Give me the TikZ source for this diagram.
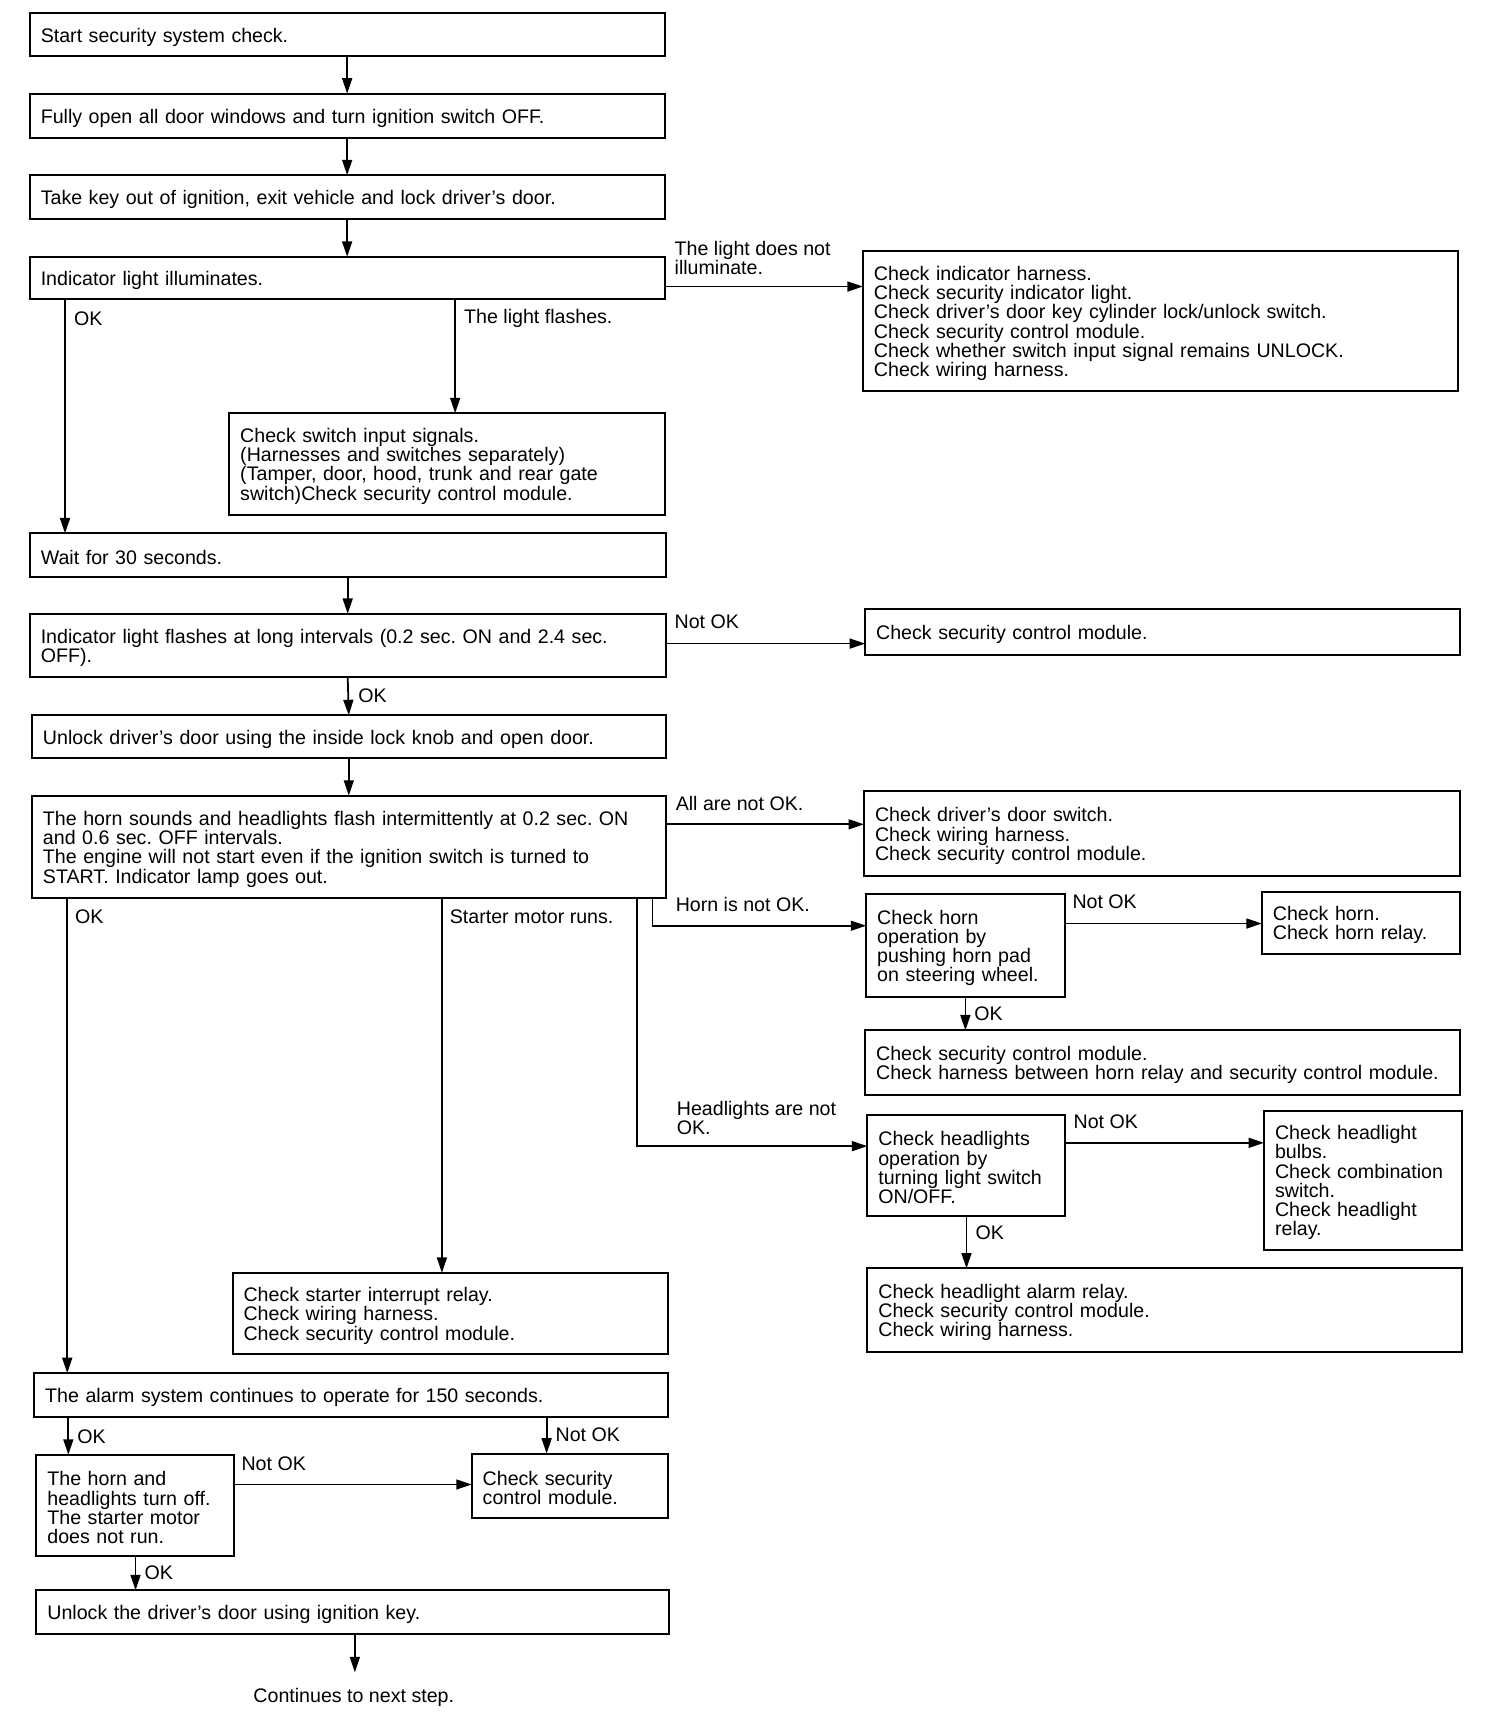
\documentclass[tikz,border=0pt]{standalone}
\usepackage{fontspec}
\setmainfont{Liberation Sans}
\usetikzlibrary{arrows.meta}
\frenchspacing
\newcommand\ff{\fontsize{17.8}{17.4}\selectfont}
\tikzset{
  box/.style={draw, line width=1.8pt, rectangle, inner xsep=10pt, inner ysep=0pt, outer sep=0pt, align=left, font=\ff},
  arr/.style={line width=1.6pt, -{Triangle[length=14pt,width=9pt]}},
  lbl/.style={inner sep=0pt, anchor=west, align=left, font=\ff}
}
\newcommand\mybox[6]{%
  \pgfmathsetmacro\mbw{#4-#2}%
  \pgfmathsetmacro\mbh{#5-#3}%
  \pgfmathsetmacro\mbt{#4-#2-20}%
  \pgfmathsetmacro\mbx{(#2+#4)/2}%
  \pgfmathsetmacro\mby{(#3+#5)/2}%
  \node[box, minimum width=\mbw pt, minimum height=\mbh pt, text width=\mbt pt] (#1) at (\mbx,\mby) {\rule{0pt}{17pt}#6};}
\begin{document}
\begin{tikzpicture}[x=1pt,y=-1pt]
\useasboundingbox (0,0) rectangle (1365,1568);
% boxes
\mybox{b1}{27}{12}{603}{51}{Start security system check.}
\mybox{b2}{27}{85}{603}{125}{Fully open all door windows and turn ignition switch OFF.}
\mybox{b3}{27}{159}{603}{199}{Take key out of ignition, exit vehicle and lock driver's door.}
\mybox{b4}{27}{233}{603}{271}{Indicator light illuminates.}
\mybox{b5}{783}{228}{1323}{355}{Check indicator harness.\\Check security indicator light.\\Check driver's door key cylinder lock/unlock switch.\\Check security control module.\\Check whether switch input signal remains UNLOCK.\\Check wiring harness.}
\mybox{b6}{208}{375}{603}{467}{Check switch input signals.\\(Harnesses and switches separately)\\(Tamper, door, hood, trunk and rear gate\\switch)Check security control module.}
\mybox{b8}{27}{484}{604}{524}{Wait for 30 seconds.}
\mybox{b9}{27}{557}{604}{614}{Indicator light flashes at long intervals (0.2 sec. ON and 2.4 sec.\\OFF).}
\mybox{b10}{785}{553}{1325}{594}{Check security control module.}
\mybox{b11}{29}{649}{604}{688}{Unlock driver's door using the inside lock knob and open door.}
\mybox{b12}{29}{722}{604}{815}{The horn sounds and headlights flash intermittently at 0.2 sec. ON\\and 0.6 sec. OFF intervals.\\The engine will not start even if the ignition switch is turned to\\START. Indicator lamp goes out.}
\mybox{b13}{784}{718}{1325}{795}{Check driver's door switch.\\Check wiring harness.\\Check security control module.}
\mybox{b14}{786}{811}{966}{905}{Check horn\\operation by\\pushing horn pad\\on steering wheel.}
\mybox{b15}{1145}{809}{1325}{866}{Check horn.\\Check horn relay.}
\mybox{b16}{785}{935}{1325}{994}{Check security control module.\\Check harness between horn relay and security control module.}
\mybox{b17}{787}{1012}{966}{1103}{Check headlights\\operation by\\turning light switch\\ON/OFF.}
\mybox{b18}{1147}{1008}{1327}{1134}{Check headlight\\bulbs.\\Check combination\\switch.\\Check headlight\\relay.}
\mybox{b19h}{787}{1151}{1327}{1227}{Check headlight alarm relay.\\Check security control module.\\Check wiring harness.}
\mybox{b19}{211}{1155}{606}{1229}{Check starter interrupt relay.\\Check wiring harness.\\Check security control module.}
\mybox{b20}{31}{1246}{606}{1286}{The alarm system continues to operate for 150 seconds.}
\mybox{b21}{33}{1320}{212}{1412}{The horn and\\headlights turn off.\\The starter motor\\does not run.}
\mybox{b22}{428}{1319}{606}{1377}{Check security\\control module.}
\mybox{b23}{33}{1443}{607}{1483}{Unlock the driver's door using ignition key.}
\node[inner sep=0pt, font=\ff] (cont) at (321,1540) {Continues to next step.};
% helper coordinates
\coordinate (y260) at (0,260);
\coordinate (y584) at (0,584);
\coordinate (y748) at (0,748);
\coordinate (y838) at (0,838);
\coordinate (y840) at (0,840);
\coordinate (y1037) at (0,1037);
\coordinate (y1040) at (0,1040);
\coordinate (y1347) at (0,1347);
\coordinate (x59) at (59,0);
\coordinate (x413) at (413,0);
\coordinate (x61) at (61,0);
\coordinate (x401) at (401,0);
\coordinate (x578) at (578,0);
\coordinate (x592) at (592,0);
\coordinate (x876) at (876,0);
\coordinate (x877) at (877,0);
\coordinate (x62) at (62,0);
\coordinate (x496) at (496,0);
\coordinate (x123) at (123,0);
\coordinate (x322) at (322,0);
% connectors
\draw[arr] (b1.south) -- (b2.north);
\draw[arr] (b2.south) -- (b3.north);
\draw[arr] (b3.south) -- (b4.north);
\draw[arr] (b4.east |- y260) -- (b5.west |- y260);
\draw[arr] (b4.south -| x59) -- (b8.north -| x59);
\draw[arr] (b4.south -| x413) -- (b6.north -| x413);
\draw[arr] (b8.south) -- (b9.north);
\draw[arr] (b9.east |- y584) -- (b10.west |- y584);
\draw[arr] (b9.south) -- (b11.north);
\draw[arr] (b11.south) -- (b12.north);
\draw[arr] (b12.east |- y748) -- (b13.west |- y748);
\draw[arr] (b12.south -| x592) |- (b14.west |- y840);
\draw[arr] (b12.south -| x578) |- (b17.west |- y1040);
\draw[arr] (b12.south -| x61) -- (b20.north -| x61);
\draw[arr] (b12.south -| x401) -- (b19.north -| x401);
\draw[arr] (b14.east |- y838) -- (b15.west |- y838);
\draw[arr] (b14.south -| x876) -- (b16.north -| x876);
\draw[arr] (b17.east |- y1037) -- (b18.west |- y1037);
\draw[arr] (b17.south -| x877) -- (b19h.north -| x877);
\draw[arr] (b20.south -| x62) -- (b21.north -| x62);
\draw[arr] (b20.south -| x496) -- (b22.north -| x496);
\draw[arr] (b21.east |- y1347) -- (b22.west |- y1347);
\draw[arr] (b21.south -| x123) -- (b23.north -| x123);
\draw[arr, shorten >=14pt] (b23.south -| x322) -- (cont.north -| x322);
% labels
\node[lbl] (l1) at (612,234) {The light does not\\illuminate.};
\node[lbl] (l2) at (67,289.5) {OK};
\node[lbl] (l3) at (421,288.5) {The light flashes.};
\node[lbl] (l4) at (612,564.5) {Not OK};
\node[lbl] (l5) at (325,631.5) {OK};
\node[lbl] (l6) at (613,729.5) {All are not OK.};
\node[lbl] (l7) at (613,820.5) {Horn is not OK.};
\node[lbl] (l8) at (614,1014.5) {Headlights are not\\OK.};
\node[lbl] (l9) at (68,831.5) {OK};
\node[lbl] (l10) at (408,831.5) {Starter motor runs.};
\node[lbl] (l11) at (973,818.5) {Not OK};
\node[lbl] (l12) at (884,919.5) {OK};
\node[lbl] (l13) at (974,1017.5) {Not OK};
\node[lbl] (l14) at (885,1118.5) {OK};
\node[lbl] (l15) at (70,1303.5) {OK};
\node[lbl] (l16) at (504,1301.5) {Not OK};
\node[lbl] (l17) at (219,1328.5) {Not OK};
\node[lbl] (l18) at (131,1427.5) {OK};
\end{tikzpicture}
\end{document}
